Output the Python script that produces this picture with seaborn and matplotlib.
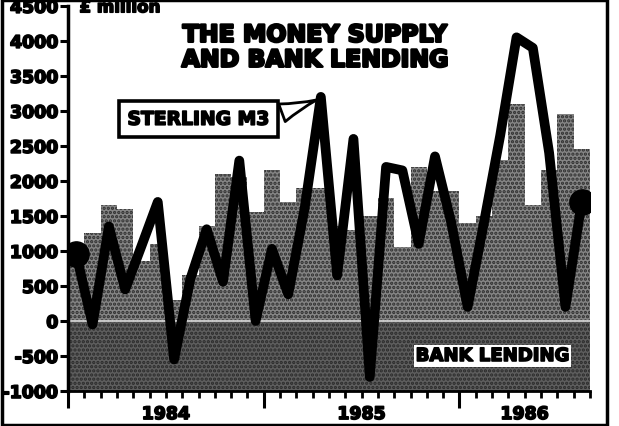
import numpy as np
import pandas as pd
import seaborn as sns
import matplotlib.pyplot as plt
import matplotlib.patheffects as pe
from matplotlib.patches import Rectangle
from matplotlib.transforms import blended_transform_factory

# monthly data, Jan 1984 .. Aug 1986 (£ million)
months = np.arange(32)
bank_lending = [850, 1250, 1650, 1600, 850, 1100, 300, 650, 1350, 2100, 2050, 1550,
                2150, 1700, 1900, 1900, 1350, 1300, 1500, 1750, 1050, 2200, 1850, 1850,
                1400, 1500, 2300, 3100, 1650, 2150, 2950, 2450]
sterling_m3 = [950, -50, 1350, 450, 1070, 1700, -550, 600, 1310, 560, 2290, 0,
               1030, 380, 1600, 3200, 650, 2600, -800, 2200, 2150, 1100, 2350, 1400,
               200, 1400, 2650, 4050, 3900, 2400, 200, 1700]
years = ["1984", "1985", "1986"]
year_start = [0, 12, 24]
year_end = [12, 24, 32]
y_ticks = list(range(-1000, 4501, 500))

df = pd.DataFrame({"month": months, "lending": bank_lending, "m3": sterling_m3})

sns.set_style("ticks")
plt.rcParams["font.family"] = ["DejaVu Sans"]
plt.rcParams["hatch.linewidth"] = 1.6
for k in ["text.color", "axes.labelcolor", "xtick.color", "ytick.color", "axes.edgecolor"]:
    plt.rcParams[k] = "black"

# fake a heavier weight than DejaVu Bold
heavy = [pe.withStroke(linewidth=1.2, foreground="black")]

fig = plt.figure(figsize=(6.19, 4.27), dpi=100)
ax = fig.add_axes([0.110, 0.082, 0.843, 0.902])

# halftone-ish fill for bank lending
ax.axhspan(-1000, 0, color="#5e5e5e", lw=0, zorder=1)
ax.bar(df["month"], df["lending"], width=1.0, color="#858585",
       edgecolor="#2e2e2e", linewidth=0, hatch="....", zorder=1)
ax.axhspan(-1000, 0, facecolor="none", edgecolor="#2a2a2a", hatch="....", lw=0, zorder=1)
ax.axhline(0, color="#dddddd", lw=1.2, zorder=2)

# sterling M3 line
sns.lineplot(data=df, x="month", y="m3", color="black", linewidth=7,
             ax=ax, zorder=3, solid_joinstyle="round", solid_capstyle="round")
ends = df.iloc[[0, -1]]
ax.scatter(ends["month"], ends["m3"], s=330, color="black", zorder=4)

ax.set_xlim(-0.5, 31.5)
ax.set_ylim(-1000, 4500)
ax.set_yticks(y_ticks)
ax.set_yticklabels([str(v) for v in y_ticks], fontsize=12.5, fontweight="bold")
for t in ax.get_yticklabels():
    t.set_path_effects(heavy)
ax.set_xticks([s - 0.5 for s in year_start])
ax.set_xticklabels([])
ax.set_xticks(np.arange(-0.5, 32, 1), minor=True)
ax.tick_params(axis="y", length=6, width=2.2, pad=1)
ax.tick_params(axis="x", which="major", length=12, width=2.2)
ax.tick_params(axis="x", which="minor", length=5, width=2)
ax.set_xlabel("")
ax.set_ylabel("")
sns.despine(ax=ax, top=True, right=True)
ax.spines["left"].set_linewidth(2.5)
ax.spines["bottom"].set_linewidth(2)

trans = blended_transform_factory(ax.transData, ax.transAxes)
for lab, s, e in zip(years, year_start, year_end):
    ax.text((s + e) / 2 - 0.5, -0.06, lab, transform=trans, ha="center", va="center",
            fontsize=12.5, fontweight="bold", path_effects=heavy)

ax.text(0.2, 4480, "£ million", ha="left", va="center", fontsize=12, fontweight="bold",
        path_effects=heavy)

fig.text(0.509, 0.887, "THE MONEY SUPPLY\nAND BANK LENDING", ha="center", va="center",
         fontsize=17, fontweight="bold", linespacing=1.05,
         path_effects=[pe.withStroke(linewidth=1.8, foreground="black")])

ax.annotate("STERLING M3", xy=(14.9, 3170), xytext=(7.5, 2880), ha="center", va="center",
            fontsize=13.5, fontweight="bold", zorder=6, path_effects=heavy,
            bbox=dict(boxstyle="square,pad=0.45", fc="white", ec="black", lw=2.6),
            arrowprops=dict(arrowstyle="wedge,tail_width=1.0,shrink_factor=0.4",
                            fc="white", ec="black", lw=2, relpos=(1.0, 0.6)))

ax.text(25.5, -500, "BANK LENDING", ha="center", va="center", fontsize=13,
        fontweight="bold", zorder=6, path_effects=heavy,
        bbox=dict(boxstyle="square,pad=0.12", fc="white", ec="none"))

fig.add_artist(Rectangle((0.004, 0.0015), 0.976, 0.996, transform=fig.transFigure,
                         fill=False, lw=2.5, ec="black"))

fig.savefig("out.png", dpi=100)
